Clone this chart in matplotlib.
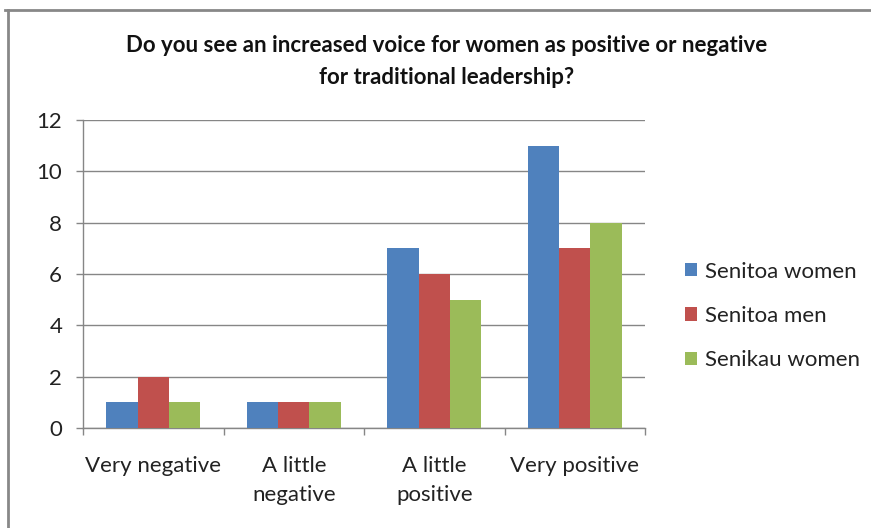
import matplotlib
matplotlib.use("Agg")
import matplotlib.pyplot as plt
from matplotlib.lines import Line2D
import numpy as np

categories = ["Very negative", "A little\nnegative", "A little\npositive", "Very positive"]
series_names = ["Senitoa women", "Senitoa men", "Senikau women"]
senitoa_women = [1, 1, 7, 11]
senitoa_men = [2, 1, 6, 7]
senikau_women = [1, 1, 5, 8]
colors = ["#4F81BD", "#C0504D", "#9BBB59"]
title = "Do you see an increased voice for women as positive or negative\nfor traditional leadership?"

plt.rcParams["font.family"] = ["Lato", "DejaVu Sans"]

W, H = 871, 528
fig = plt.figure(figsize=(W / 100, H / 100), dpi=100)
fig.patch.set_facecolor("white")

ax = fig.add_axes([83 / W, 1 - 428 / H, (645 - 83) / W, (428 - 120) / H])

grid_col = "#868686"
bar_w = 1 / 4.5
x = np.arange(len(categories)) + 0.5
for i, (vals, c, name) in enumerate(zip([senitoa_women, senitoa_men, senikau_women], colors, series_names)):
    ax.bar(x + (i - 1) * bar_w, vals, width=bar_w, color=c, label=name, zorder=3, linewidth=0)

ax.set_xlim(0, len(categories))
ax.set_ylim(0, 12)
ax.set_yticks(range(0, 13, 2))
ax.yaxis.grid(True, color=grid_col, linewidth=1.0, zorder=0)
ax.set_axisbelow(True)

for s in ["top", "right"]:
    ax.spines[s].set_visible(False)
for s in ["left", "bottom"]:
    ax.spines[s].set_color(grid_col)
    ax.spines[s].set_linewidth(1.0)

ax.set_xticks(np.arange(len(categories) + 1))
ax.set_xticklabels([])
ax.tick_params(axis="x", which="major", length=5, color=grid_col, width=1.0)
ax.set_xticks(x, minor=True)
ax.set_xticklabels(categories, minor=True, fontsize=16, color="#222222", linespacing=1.6)
ax.tick_params(axis="x", which="minor", length=0, pad=20)
ax.tick_params(axis="y", length=5, color=grid_col, width=1.0, labelsize=16,
               labelcolor="#222222", pad=10)

leg = ax.legend(loc="center left", bbox_to_anchor=(676 / W, 1 - 316 / H),
                bbox_transform=fig.transFigure, frameon=False, fontsize=16,
                handlelength=0.55, handleheight=0.55, handletextpad=0.35,
                labelspacing=1.1, borderaxespad=0)
for t in leg.get_texts():
    t.set_color("#222222")

fig.text(447 / W, 1 - 61.5 / H, title, ha="center", va="center", fontsize=16,
         fontweight="bold", color="#111111", linespacing=1.6)

# Chart frame
frame_col = "#888888"
fig.add_artist(Line2D([5 / W, 1], [1 - 10 / H, 1 - 10 / H], transform=fig.transFigure,
                      color=frame_col, linewidth=2))
fig.add_artist(Line2D([8 / W, 8 / W], [0, 1 - 10 / H], transform=fig.transFigure,
                      color=frame_col, linewidth=2))

fig.savefig("out.png", dpi=100, facecolor="white")
